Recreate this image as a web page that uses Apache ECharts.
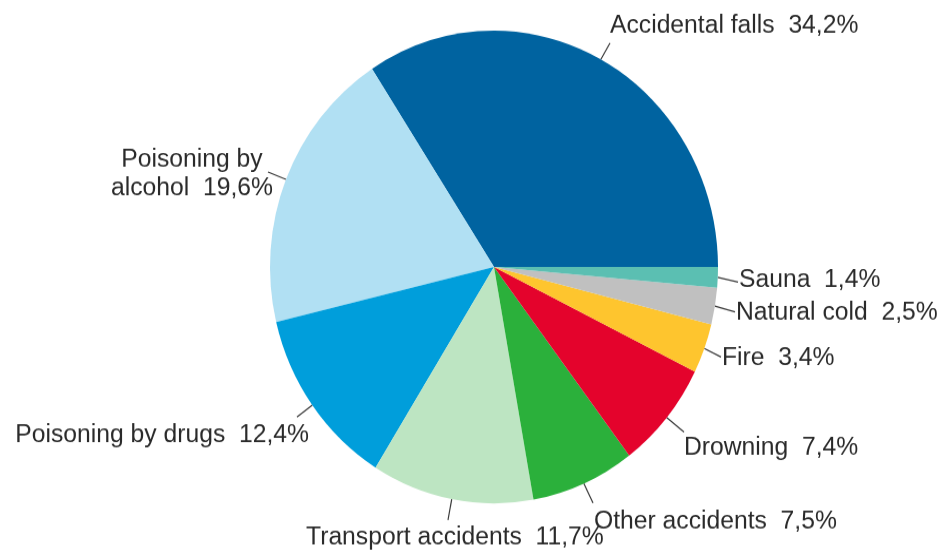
<!DOCTYPE html>
<html>
<head>
<meta charset="utf-8">
<script src="https://cdn.jsdelivr.net/npm/echarts@6/dist/echarts.min.js"></script>
<style>
  html { margin: 0; padding: 0; overflow: hidden; background: #ffffff; }
  body { margin: 0; padding: 0; width: 943px; height: 556px; background: #ffffff; }
  /* the pie is drawn slightly taller than wide */
  #chart { width: 943px; height: 527px; transform: scaleY(1.055); transform-origin: 0 0; }
</style>
</head>
<body>
<div id="chart"></div>
<script>
// Accidental deaths by cause, share of all accidental deaths (%)
const categories = [
  'Accidental falls',
  'Poisoning by\nalcohol',
  'Poisoning by drugs',
  'Transport accidents',
  'Other accidents',
  'Drowning',
  'Fire',
  'Natural cold',
  'Sauna'
];
const shares = [34.2, 19.6, 12.4, 11.7, 7.5, 7.4, 3.4, 2.5, 1.4];
const sliceColors = [
  '#0063a0', '#b1e0f3', '#009edb', '#bde5c2', '#2bb03b',
  '#e4032c', '#fec52e', '#c0c0c0', '#5bbfb2'
];

// where each label sits and where its leader line ends
const labelPlacement = [
  { x: 610, y: 24.6,  align: 'left',   lineEnd: [610, 40.8] },
  { x: 192, y: 164.9, align: 'center', lineEnd: [268, 163.0] },
  { x: 309, y: 412.3, align: 'right',  lineEnd: [297, 395.3] },
  { x: 306, y: 509.5, align: 'left',   lineEnd: [448, 492.9] },
  { x: 594, y: 493.8, align: 'left',   lineEnd: [593, 476.8] },
  { x: 684, y: 424.6, align: 'left',   lineEnd: [684, 409.5] },
  { x: 722, y: 339.3, align: 'left',   lineEnd: [721, 338.4] },
  { x: 736, y: 296.2, align: 'left',   lineEnd: [735, 295.7] },
  { x: 739, y: 265.4, align: 'left',   lineEnd: [738, 267.3] }
];

const CX = 494, CY = 253.1, R = 224;

// fallback start point of a leader line: outer edge at the slice's middle angle
function edgePoint(index) {
  const total = shares.reduce((a, b) => a + b, 0);
  let before = 0;
  for (let i = 0; i < index; i++) before += shares[i];
  const mid = (before + shares[index] / 2) / total * Math.PI * 2;
  return [CX + R * Math.cos(mid), CY - R * Math.sin(mid)];
}

const chart = echarts.init(document.getElementById('chart'), null, { renderer: 'canvas' });

chart.setOption({
  animation: false,
  backgroundColor: '#ffffff',
  series: [{
    type: 'pie',
    center: [CX, CY],
    radius: [0, R],
    startAngle: 0,
    clockwise: false,
    avoidLabelOverlap: false,
    emphasis: { disabled: true },
    itemStyle: { borderWidth: 0 },
    data: categories.map((name, i) => ({
      name: name,
      value: shares[i],
      itemStyle: { color: sliceColors[i] }
    })),
    label: {
      show: true,
      position: 'outside',
      color: '#2a2a2a',
      fontFamily: '"Liberation Sans", Arial, sans-serif',
      fontSize: 24.7,
      lineHeight: 27.5,
      formatter: p => p.name + '  ' + p.value.toFixed(1).replace('.', ',') + '%'
    },
    labelLine: {
      show: true,
      length: 10,
      length2: 10,
      lineStyle: { color: '#3a3a3a', width: 1.2 }
    },
    labelLayout: function (params) {
      const place = labelPlacement[params.dataIndex];
      const start = (params.labelLinePoints && params.labelLinePoints[0])
        ? params.labelLinePoints[0] : edgePoint(params.dataIndex);
      return {
        x: place.x,
        y: place.y,
        align: place.align,
        verticalAlign: 'middle',
        labelLinePoints: [start, place.lineEnd]
      };
    }
  }]
});
</script>
</body>
</html>
